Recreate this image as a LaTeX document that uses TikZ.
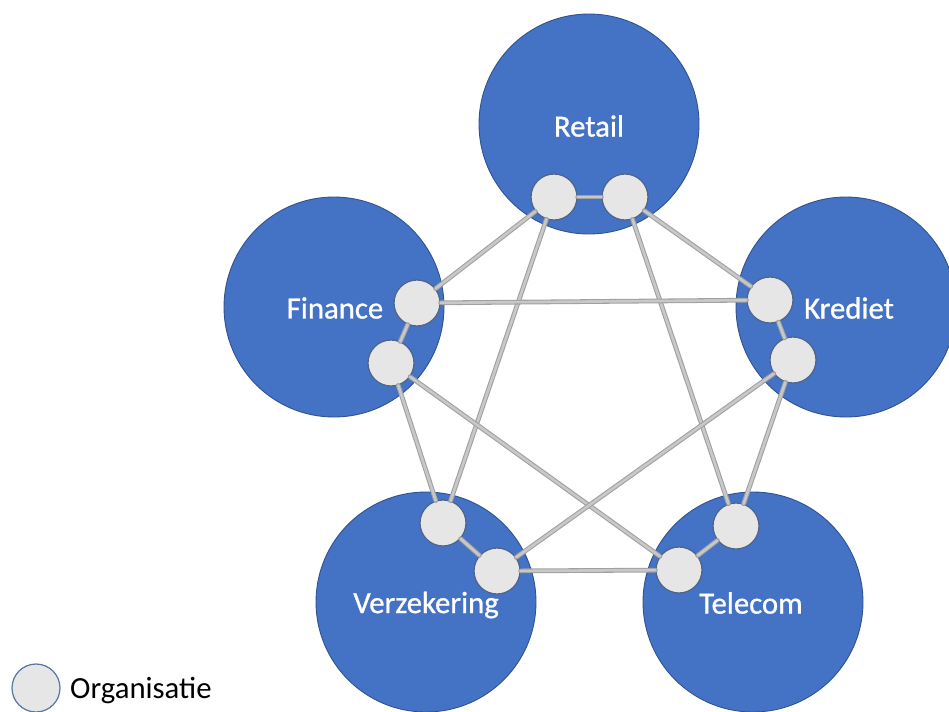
\documentclass[tikz,border=0pt]{standalone}
\usepackage{fontspec}
\setmainfont{Carlito}[BoldFont=Carlito,BoldFeatures={FakeBold=0.9}]
\definecolor{sectorblue}{RGB}{68,114,196}
\definecolor{sectorrim}{RGB}{47,82,143}
\definecolor{orgfill}{RGB}{231,230,230}
\definecolor{linkgray}{RGB}{160,160,160}
\definecolor{linkcore}{RGB}{200,200,200}
\tikzset{
  sector/.style={circle,fill=sectorblue,draw=sectorrim,line width=0.5pt,
    minimum size=220\pxu,inner sep=0pt},
  sectorlabel/.style={text=white,font=\fontsize{17.5}{20}\selectfont\bfseries},
  org/.style={circle,fill=orgfill,draw=sectorrim!60!gray,line width=0.7pt,
    minimum size=46\pxu,inner sep=0pt},
  link/.style={draw=linkgray,double=linkcore,line width=0.6pt,double distance=1.5pt}
}
\newcommand{\pxu}{*0.02cm}
\begin{document}
\begin{tikzpicture}[x=0.02cm,y=-0.02cm,line cap=round,line join=round]
\useasboundingbox (0,0) rectangle (949,711);
% sectoren
\node[sector] (retail) at (589,124) {};
\node[sector] (finance) at (334,307) {};
\node[sector] (krediet) at (846,307) {};
\node[sector] (verzekering) at (426,602) {};
\node[sector] (telecom) at (753,602) {};
\node[sectorlabel] (lretail) at (589,126) {Retail};
\node[sectorlabel] (lfinance) at (335,308) {Finance};
\node[sectorlabel] (lkrediet) at (849,308) {Krediet};
\node[sectorlabel] (lverzekering) at (426,605) {Verzekering};
\node[sectorlabel] (ltelecom) at (751,603) {Telecom};
% organisaties
\node[org] (ret1) at (554,197) {};
\node[org] (ret2) at (625,197) {};
\node[org] (fin1) at (417,303) {};
\node[org] (fin2) at (391,363) {};
\node[org] (kre1) at (770,300) {};
\node[org] (kre2) at (793,360) {};
\node[org] (ver1) at (443,523) {};
\node[org] (ver2) at (497,571) {};
\node[org] (tel1) at (736,526) {};
\node[org] (tel2) at (679,570) {};
% verbindingen
\draw[link] (ret1) -- (ret2);
\draw[link] (ret1) -- (fin1);
\draw[link] (ret1) -- (ver1);
\draw[link] (ret2) -- (kre1);
\draw[link] (ret2) -- (tel1);
\draw[link] (fin1) -- (kre1);
\draw[link] (fin1) -- (fin2);
\draw[link] (fin2) -- (ver1);
\draw[link] (fin2) -- (tel2);
\draw[link] (kre1) -- (kre2);
\draw[link] (kre2) -- (ver2);
\draw[link] (kre2) -- (tel1);
\draw[link] (ver1) -- (ver2);
\draw[link] (ver2) -- (tel2);
\draw[link] (tel1) -- (tel2);
% legenda
\node[org,minimum size=48\pxu,draw=sectorrim!80!white] (legorg) at (36,688) {};
\node[anchor=west,font=\fontsize{17.5}{20}\selectfont] (legtext) at (64,690) {Organisatie};
\end{tikzpicture}
\end{document}
